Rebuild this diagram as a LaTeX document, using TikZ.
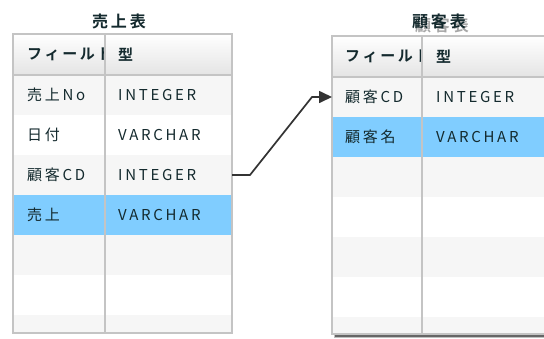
\documentclass[tikz,border=0pt]{standalone}
\usepackage{fontspec}
\setmainfont{Noto Sans CJK JP}[LetterSpace=18, BoldFont={Noto Sans CJK JP Bold}]
\usepackage{tikz}
\usetikzlibrary{positioning, calc, arrows.meta}
\definecolor{cText}{RGB}{20,42,46}
\definecolor{cGrid}{RGB}{196,196,196}
\definecolor{cStripe}{RGB}{246,246,246}
\definecolor{cSel}{RGB}{128,205,255}
\definecolor{cHead}{RGB}{228,228,228}
\tikzset{
	rowbox/.style  ={rectangle, anchor=north west, minimum height=40pt, inner sep=0pt, outer sep=0pt},
	headbox/.style ={rowbox, minimum height=41pt, top color=white, bottom color=cHead},
	celltxt/.style ={anchor=west, inner sep=0pt, text=cText, font=\fontsize{15}{17}\selectfont},
	headtxt/.style ={celltxt, font=\bfseries\fontsize{15}{17}\selectfont},
	tabtitle/.style={inner sep=0pt, text=cText, font=\bfseries\fontsize{16}{18}\selectfont},
	gridline/.style={draw=cGrid, line width=1.2pt},
	link/.style    ={-{Triangle[length=13pt, width=12pt]}, line width=1.7pt, black!80},
}
\begin{document}
\begin{tikzpicture}[x=1pt, y=-1pt]
	\clip (0,0) rectangle (544,338);
	\fill[white] (0,0) rectangle (544,338);
	% 売上表
	\node[tabtitle] (uTitle) at (119,21) {売上表};
	\fill[cStripe] (13,34) rectangle (232,333);
	\node[headbox, minimum width=219pt] (uh) at (13,34) {};
	\foreach \r/\c in {1/cStripe, 2/white, 3/cStripe, 4/cSel, 5/cStripe, 6/white}
		\node[rowbox, minimum width=219pt, fill=\c] (u\r) at (13,35+40*\r) {};
	\begin{scope}
		\clip (13,34) rectangle (104,75);
		\node[headtxt] (uhf) at ($(uh.west)+(14,0)$) {フィールド};
	\end{scope}
	\node[headtxt] (uht) at ($(uh.west)+(105,0)$) {型};
	\foreach \r/\f/\t in {1/売上No/INTEGER, 2/日付/VARCHAR, 3/顧客CD/INTEGER, 4/売上/VARCHAR}{
		\node[celltxt] (u\r f) at ($(u\r.west)+(14,0)$) {\f};
		\node[celltxt] (u\r t) at ($(u\r.west)+(105,0)$) {\t};
	}
	\draw[gridline] (uh.south west) -- (uh.south east);
	\draw[gridline] (105,34) -- (105,333);
	\draw[gridline] (13,34) rectangle (232,333);
	% 顧客表
	\node[tabtitle, text=black, opacity=0.35] (kShadow) at (442,25) {顧客表};
	\node[tabtitle] (kTitle) at (439,21) {顧客表};
	\fill[black!25] (334,333) rectangle (560,338);
	\fill[black!60] (335,333) rectangle (560,336.5);
	\fill[cStripe] (332,36) rectangle (549,334);
	\node[headbox, minimum width=217pt] (kh) at (332,36) {};
	\foreach \r/\c in {1/cStripe, 2/cSel, 3/cStripe, 4/white, 5/cStripe, 6/white}
		\node[rowbox, minimum width=217pt, fill=\c] (k\r) at (332,37+40*\r) {};
	\begin{scope}
		\clip (332,36) rectangle (421,77);
		\node[headtxt] (khf) at ($(kh.west)+(13,0)$) {フィールド};
	\end{scope}
	\node[headtxt] (kht) at ($(kh.west)+(104,0)$) {型};
	\foreach \r/\f/\t in {1/顧客CD/INTEGER, 2/顧客名/VARCHAR}{
		\node[celltxt] (k\r f) at ($(k\r.west)+(13,0)$) {\f};
		\node[celltxt] (k\r t) at ($(k\r.west)+(104,0)$) {\t};
	}
	\draw[gridline] (kh.south west) -- (kh.south east);
	\draw[gridline] (422,36) -- (422,334);
	\draw[gridline] (332,36) rectangle (549,334);
	% relation
	\draw[link] (u3.east) -- ++(18,0) -- ($(k1.west)+(-20,0)$) -- (k1.west);
\end{tikzpicture}
\end{document}
